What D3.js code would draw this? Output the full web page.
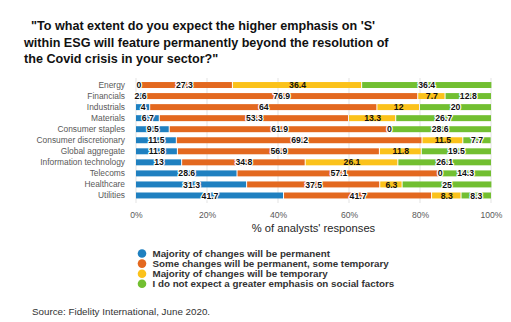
<!DOCTYPE html>
<html>
<head>
<meta charset="utf-8">
<script src="https://cdn.jsdelivr.net/npm/d3@7"></script>
<style>
  html, body { margin: 0; padding: 0; background: #fff; }
  svg { display: block; font-family: Arial, "Liberation Sans", sans-serif; }
</style>
</head>
<body>
<svg id="chart" width="511" height="322"></svg>
<script>
// Sector breakdown of analysts' responses (%)
const categories = [
  "Energy", "Financials", "Industrials", "Materials", "Consumer staples",
  "Consumer discretionary", "Global aggregate", "Information technology",
  "Telecoms", "Healthcare", "Utilities"
];
const seriesNames = [
  "Majority of changes will be permanent",
  "Some changes will be permanent, some temporary",
  "Majority of changes will be temporary",
  "I do not expect a greater emphasis on social factors"
];
const permanent   = [0, 2.6, 4, 6.7, 9.5, 11.5, 11.8, 13, 28.6, 31.3, 41.7];
const mixed       = [27.3, 76.9, 64, 53.3, 61.9, 69.2, 56.9, 34.8, 57.1, 37.5, 41.7];
const temporary   = [36.4, 7.7, 12, 13.3, 0, 11.5, 11.8, 26.1, 0, 6.3, 8.3];
const noEmphasis  = [36.4, 12.8, 20, 26.7, 28.6, 7.7, 19.5, 26.1, 14.3, 25, 8.3];
const tickValues  = [0, 20, 40, 60, 80, 100];
const colors = ["#1f80c0", "#e3681f", "#fbc21b", "#72bf31"];

const titleLines = [
  "  \"To what extent do you expect the higher emphasis on 'S'",
  "within ESG will feature permanently beyond the resolution of",
  "the Covid crisis in your sector?\""
];

const seriesValues = [permanent, mixed, temporary, noEmphasis];
const rows = categories.map((c, i) => {
  const r = { category: c };
  seriesValues.forEach((vals, k) => { r["s" + k] = vals[i]; });
  return r;
});
const keys = seriesValues.map((_, k) => "s" + k);
const stacked = d3.stack().keys(keys)(rows);

const svg = d3.select("#chart");

// Title
svg.append("text")
  .attr("x", 24).attr("y", 30)
  .attr("font-size", 12.6).attr("font-weight", "bold").attr("fill", "#111")
  .selectAll("tspan").data(titleLines).join("tspan")
  .attr("x", 24).attr("dy", (d, i) => i === 0 ? 0 : 16.5)
  .attr("xml:space", "preserve")
  .style("white-space", "pre")
  .text(d => d);

const x = d3.scaleLinear().domain([0, 100]).range([136, 491]);
const y = d3.scaleBand().domain(categories).range([79.5, 201]).paddingInner(0.46).paddingOuter(0.23);

// Gridlines
svg.append("g")
  .selectAll("line").data(tickValues).join("line")
  .attr("x1", d => x(d)).attr("x2", d => x(d))
  .attr("y1", 78).attr("y2", 203)
  .attr("stroke", "#e3e3e3").attr("stroke-width", 1);

// Category axis
const yAxis = d3.axisLeft(y).tickSize(0).tickPadding(11);
svg.append("g")
  .attr("transform", `translate(${x(0)},0)`)
  .call(yAxis)
  .call(g => g.select(".domain").remove())
  .call(g => g.selectAll("text")
    .attr("font-size", 8.4).attr("fill", "#595959").attr("font-family", "Arial, 'Liberation Sans', sans-serif"));

// Value axis
const xAxis = d3.axisBottom(x).tickValues(tickValues).tickFormat(d => d + "%").tickSize(0).tickPadding(8);
svg.append("g")
  .attr("transform", `translate(0,${204})`)
  .call(xAxis)
  .call(g => g.select(".domain").remove())
  .call(g => g.selectAll("text")
    .attr("font-size", 8.6).attr("fill", "#595959").attr("font-family", "Arial, 'Liberation Sans', sans-serif"));

svg.append("text")
  .attr("x", (x(0) + x(100)) / 2).attr("y", 232)
  .attr("text-anchor", "middle")
  .attr("font-size", 11.2).attr("fill", "#262626")
  .text("% of analysts' responses");

// Bars
const barG = svg.append("g");
stacked.forEach((layer, k) => {
  barG.append("g").attr("fill", colors[k])
    .selectAll("rect").data(layer).join("rect")
    .attr("x", d => x(d[0]))
    .attr("y", d => y(d.data.category))
    .attr("width", d => Math.max(0, x(d[1]) - x(d[0]) - (k < 3 ? 1 : 0)))
    .attr("height", y.bandwidth());
});

// Value labels
const labelG = svg.append("g")
  .attr("font-size", 8.7).attr("font-weight", "bold")
  .attr("text-anchor", "middle");
stacked.forEach((layer, k) => {
  layer.forEach((d, i) => {
    const v = seriesValues[k][i];
    const cx = v === 0 ? x(d[0]) + (k === 0 ? 3 : 0) : (x(d[0]) + x(d[1])) / 2;
    const cy = y(d.data.category) + y.bandwidth() / 2 + 3.1;
    const halo = !(k === 2 && v > 0);
    const t = labelG.append("text")
      .attr("x", cx).attr("y", cy)
      .attr("fill", "#111")
      .text(v);
    if (halo) {
      t.attr("stroke", "#fff").attr("stroke-width", 2.4)
       .attr("paint-order", "stroke").attr("stroke-linejoin", "round");
    }
  });
});

// Legend
const legend = svg.append("g");
seriesNames.forEach((name, k) => {
  const ly = 253.5 + k * 10.1;
  legend.append("circle").attr("cx", 142).attr("cy", ly).attr("r", 4.3).attr("fill", colors[k]);
  legend.append("text").attr("x", 152.5).attr("y", ly + 3.5)
    .attr("font-size", 9.8).attr("font-weight", "bold").attr("fill", "#333")
    .text(name);
});

// Source note
svg.append("text")
  .attr("x", 32).attr("y", 315)
  .attr("font-size", 9.8).attr("fill", "#333")
  .text("Source: Fidelity International, June 2020.");
</script>
</body>
</html>
